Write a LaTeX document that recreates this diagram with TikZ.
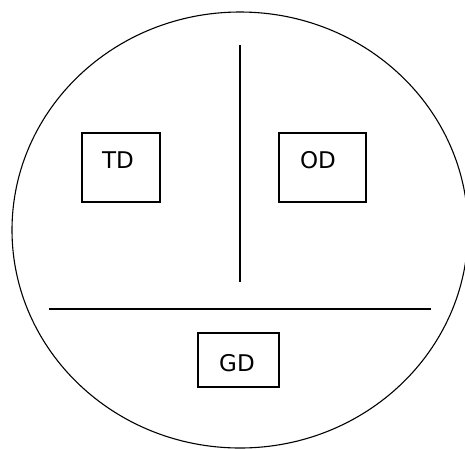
\documentclass[tikz,border=0pt]{standalone}
\usepackage{fontspec}
\setmainfont{DejaVu Sans}
\begin{document}
\begin{tikzpicture}[x=1pt,y=-1pt,line width=1.1pt,
  box/.style={draw,line width=1.1pt,inner sep=0pt},
  lbl/.style={font=\fontsize{23}{23}\selectfont,inner sep=0pt}]
\useasboundingbox (0,0) rectangle (465,448);
\draw (240,230) ellipse [x radius=228, y radius=218];
\coordinate (vt) at (240,45);
\coordinate (vb) at (240,282);
\draw (vt) -- (vb);
\coordinate (hl) at (49,309);
\coordinate (hr) at (431,309);
\draw (hl) -- (hr);
\node[box,minimum width=78pt,minimum height=69pt] (tdbox) at (121,167.5) {};
\node[lbl] (td) at (118,160) {TD};
\node[box,minimum width=87pt,minimum height=69pt] (odbox) at (322.5,167.5) {};
\node[lbl] (od) at (318,160) {OD};
\node[box,minimum width=81pt,minimum height=54pt] (gdbox) at (238.5,360) {};
\node[lbl] (gd) at (237,363) {GD};
\end{tikzpicture}
\end{document}
